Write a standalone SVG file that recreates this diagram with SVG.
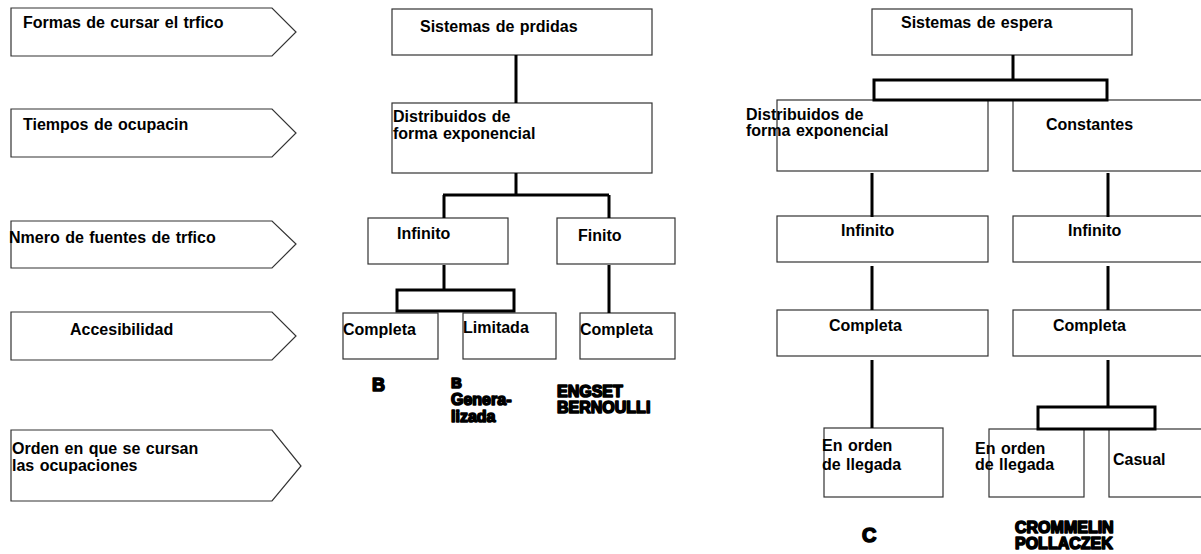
<svg xmlns="http://www.w3.org/2000/svg" width="1201" height="554" viewBox="0 0 1201 554">
<style>
text{font-family:"Liberation Sans",Arial,sans-serif;font-size:16px;font-weight:bold;fill:#000;word-spacing:1px}
.box{fill:#fff;stroke:#333;stroke-width:1.2}
.arr{fill:#fff;stroke:#333;stroke-width:1.2}
.br{fill:none;stroke:#000;stroke-width:3}
.ln{stroke:#000;stroke-width:3;fill:none}
.hv{stroke:#000;stroke-width:1.6;stroke-linejoin:round}
</style>
<rect width="1201" height="554" fill="#fff"/>
<g id="levels">
<g id="lvl1"><polygon class="arr" points="11,8 272,8 296,32 272,56 11,56"/><text x="23" y="28">Formas de cursar el trfico</text></g>
<g id="lvl2"><polygon class="arr" points="11,109 272,109 296,133 272,157 11,157"/><text x="23" y="130">Tiempos de ocupacin</text></g>
<g id="lvl3"><polygon class="arr" points="11,221 272,221 296,244 272,268 11,268"/><text x="9" y="243">Nmero de fuentes de trfico</text></g>
<g id="lvl4"><polygon class="arr" points="11,312 272,312 296,336 272,360 11,360"/><text x="70" y="335">Accesibilidad</text></g>
<g id="lvl5"><polygon class="arr" points="11,430 272,430 301,466 272,501 11,501"/><text x="12" y="454">Orden en que se cursan</text><text x="12" y="471">las ocupaciones</text></g>
</g>
<g id="perdidas">
<g id="p1"><rect class="box" x="392" y="9" width="260" height="46"/><text x="420" y="32">Sistemas de prdidas</text></g>
<g id="p2"><rect class="box" x="392" y="103" width="260" height="70"/><text x="393" y="122">Distribuidos de</text><text x="393" y="139">forma exponencial</text></g>
<g id="p3"><rect class="box" x="368" y="218" width="140" height="46"/><text x="397" y="239">Infinito</text></g>
<g id="p4"><rect class="box" x="557" y="218" width="118" height="46"/><text x="578" y="241">Finito</text></g>
<g id="p5"><rect class="box" x="343" y="313" width="95" height="46"/><text x="343" y="335">Completa</text></g>
<g id="p6"><rect class="box" x="463" y="313" width="93" height="46"/><text x="463" y="333">Limitada</text></g>
<g id="p7"><rect class="box" x="580" y="313" width="95" height="46"/><text x="580" y="335">Completa</text></g>
</g>
<g id="espera">
<g id="e1"><rect class="box" x="872" y="9" width="260" height="46"/><text x="901" y="28">Sistemas de espera</text></g>
<g id="e2"><rect class="box" x="777" y="100" width="211" height="71"/><text x="746" y="120">Distribuidos de</text><text x="746" y="136">forma exponencial</text></g>
<g id="e3"><rect class="box" x="1013" y="100" width="200" height="71"/><text x="1046" y="130">Constantes</text></g>
<g id="e4"><rect class="box" x="777" y="216" width="211" height="46"/><text x="841" y="236">Infinito</text></g>
<g id="e5"><rect class="box" x="1013" y="216" width="200" height="46"/><text x="1068" y="236">Infinito</text></g>
<g id="e6"><rect class="box" x="777" y="310" width="211" height="46"/><text x="829" y="331">Completa</text></g>
<g id="e7"><rect class="box" x="1013" y="310" width="200" height="46"/><text x="1053" y="331">Completa</text></g>
<g id="e8"><rect class="box" x="824" y="428" width="119" height="69"/><text x="822" y="451">En orden</text><text x="822" y="470">de llegada</text></g>
<g id="e9"><rect class="box" x="989" y="429" width="95" height="68"/><text x="975" y="454">En orden</text><text x="975" y="470">de llegada</text></g>
<g id="e10"><rect class="box" x="1109" y="429" width="100" height="68"/><text x="1113" y="465">Casual</text></g>
</g>
<g id="connectors">
<path class="ln" d="M516,55V103 M516,173V195 M443,195H609 M444,195V218 M609,195V218 M444,265V290 M609,265V313"/>
<rect class="br" x="397" y="290" width="117" height="21"/>
<path class="ln" d="M1013,55V80 M872,173V217 M1108,173V217 M872,266V310 M1108,266V310 M872,360V428 M1108,360V407"/>
<rect class="br" x="874" y="80" width="233" height="20"/>
<rect class="br" x="1038" y="407" width="117" height="22"/>
</g>
<g id="results">
<text class="hv" x="372" y="391" style="font-size:18px">B</text>
<text class="hv" x="451" y="388" style="font-size:15px">B</text>
<text class="hv" x="451" y="405" style="font-size:16px">Genera-</text>
<text class="hv" x="451" y="422" style="font-size:16px">lizada</text>
<text class="hv" x="557" y="397" style="font-size:16px">ENGSET</text>
<text class="hv" x="557" y="413" style="font-size:16px">BERNOULLI</text>
<text class="hv" x="862" y="542" style="font-size:20px">C</text>
<text class="hv" x="1015" y="533" style="font-size:16px">CROMMELIN</text>
<text class="hv" x="1015" y="549" style="font-size:16px">POLLACZEK</text>
</g>
</svg>
